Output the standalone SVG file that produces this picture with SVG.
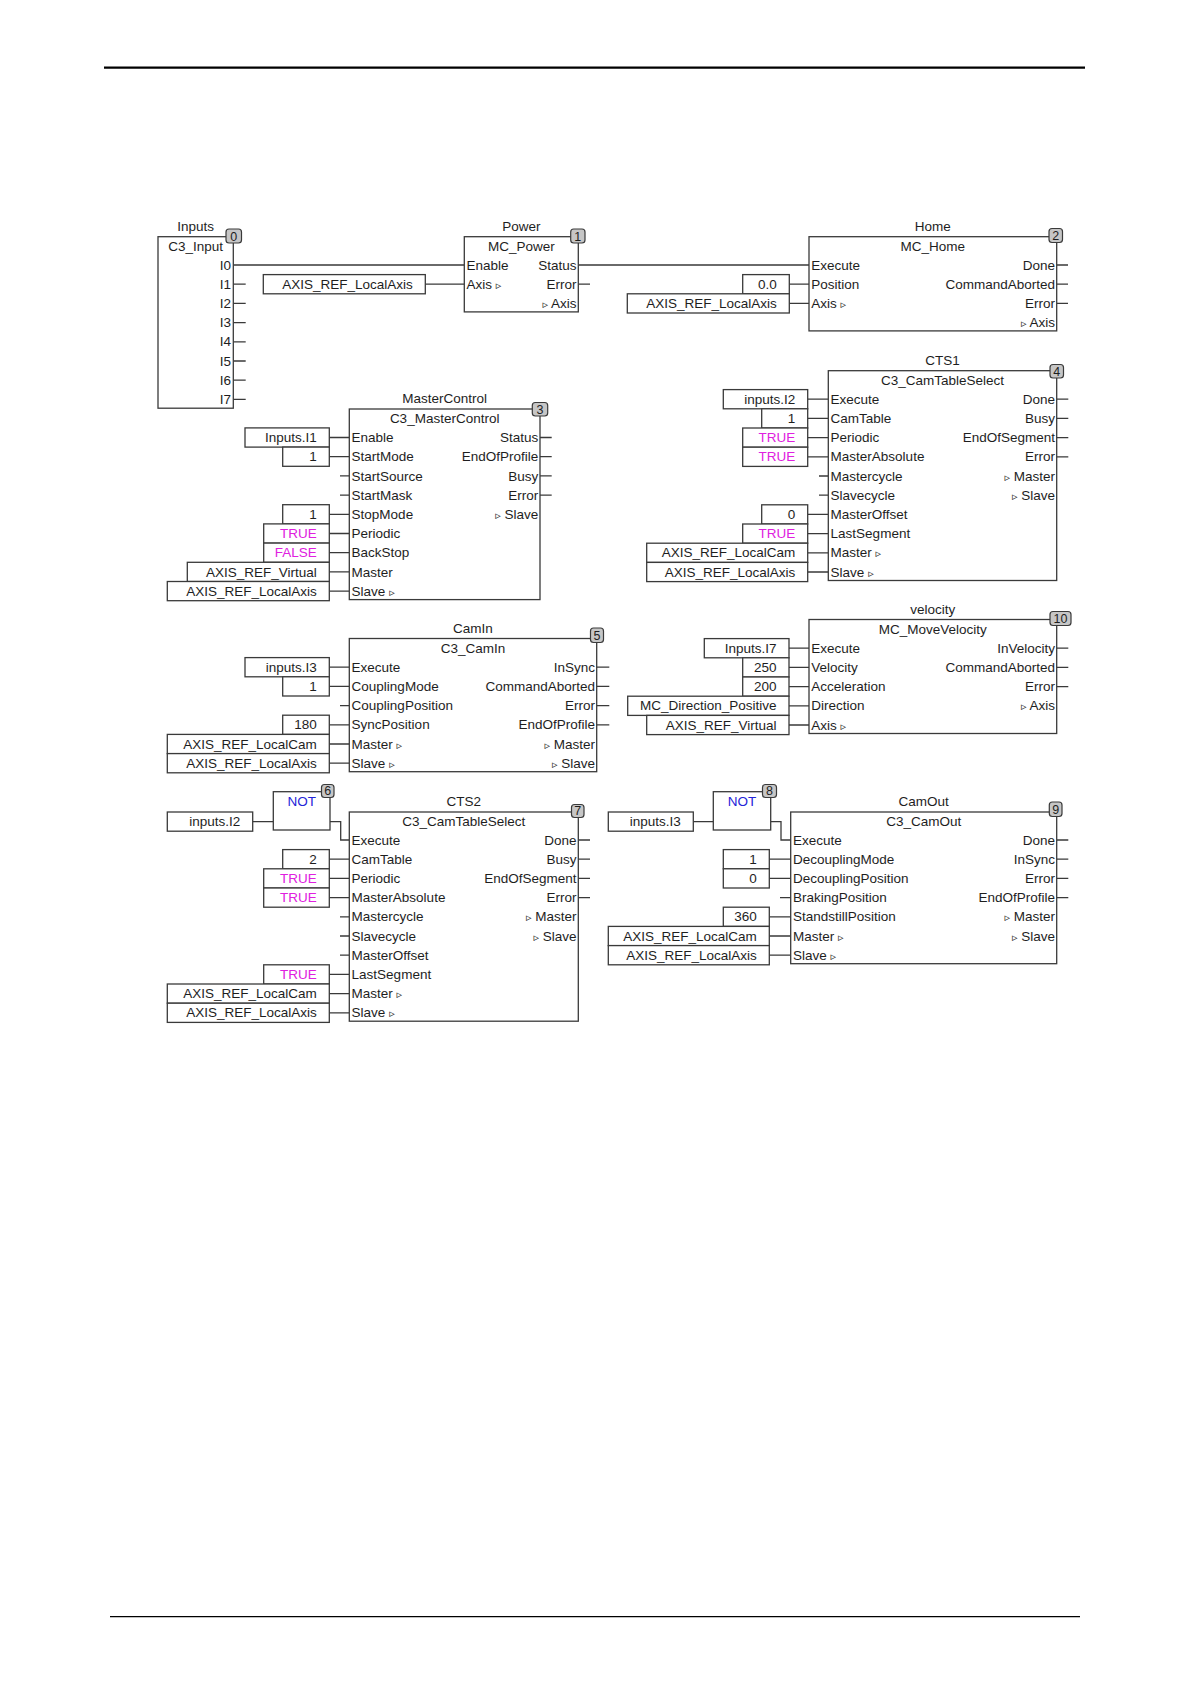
<svg xmlns="http://www.w3.org/2000/svg" width="1190" height="1684" viewBox="0 0 1190 1684">
<style>
text{font-family:"Liberation Sans","DejaVu Sans",Arial,sans-serif;font-size:13.5px;fill:#1e1e1e}
.m{text-anchor:middle}
.e{text-anchor:end}
.b{fill:#fff;stroke:#3a3a3a;stroke-width:1.3}
.ib{fill:#fff;stroke:#3a3a3a;stroke-width:1.3}
.w{fill:none;stroke:#3a3a3a;stroke-width:1.3}
.bd{fill:#c6c6c6;stroke:#3a3a3a;stroke-width:1.2}
.bt{font-size:12.5px;text-anchor:middle}
.mg{fill:#e020e0}
.bl{fill:#2424d8}
.tr{font-family:"DejaVu Sans",sans-serif;font-size:11px}
.rule{stroke:#000}
</style>
<line class="rule" x1="104" y1="67.7" x2="1085" y2="67.7" stroke-width="2.2"/>
<line class="rule" x1="110" y1="1616.7" x2="1080" y2="1616.7" stroke-width="1.3"/>

<g id="connectors" class="w">
<path d="M233.3 284.2H245.7M233.3 303.4H245.7M233.3 322.6H245.7M233.3 341.8H245.7M233.3 361H245.7M233.3 380.2H245.7M233.3 399.4H245.7"/>
<path d="M233.3 265H464.3M425.3 284.2H464.3M578.3 265H809M578.3 284.2H590"/>
<path d="M789.3 284.2H809M789.3 303.4H809M1056.7 265H1068M1056.7 284.2H1068M1056.7 303.4H1068"/>
<path d="M329.3 437.5H349.3M329.3 456.7H349.3M340 475.9H349.3M340 495.1H349.3M329.3 514.3H349.3M329.3 533.5H349.3M329.3 552.7H349.3M329.3 571.9H349.3M329.3 591.1H349.3"/>
<path d="M540 437.5H551.7M540 456.7H551.7M540 475.9H551.7M540 495.1H551.7"/>
<path d="M807.7 399.2H828.3M807.7 418.4H828.3M807.7 437.6H828.3M807.7 456.8H828.3M819 476H828.3M819 495.2H828.3M807.7 514.4H828.3M807.7 533.6H828.3M807.7 552.8H828.3M807.7 572H828.3"/>
<path d="M1056.7 399.2H1068.3M1056.7 418.4H1068.3M1056.7 437.6H1068.3M1056.7 456.8H1068.3"/>
<path d="M329.3 667.2H349.3M329.3 686.4H349.3M340 705.6H349.3M329.3 724.8H349.3M329.3 744H349.3M329.3 763.2H349.3"/>
<path d="M596.7 667.2H609.3M596.7 686.4H609.3M596.7 705.6H609.3M596.7 724.8H609.3"/>
<path d="M789 648.2H809M789 667.4H809M789 686.6H809M789 705.8H809M789 725H809"/>
<path d="M1056.7 648.2H1068.3M1056.7 667.4H1068.3M1056.7 686.6H1068.3"/>
<path d="M252.7 821.6H273.3M330 821.6H340.7V840H349.3"/>
<path d="M329.3 859.2H349.3M329.3 878.4H349.3M329.3 897.6H349.3M340 916.8H349.3M340 936H349.3M340 955.2H349.3M329.3 974.4H349.3M329.3 993.6H349.3M329.3 1012.8H349.3"/>
<path d="M578.3 840H590M578.3 859.2H590M578.3 878.4H590M578.3 897.6H590"/>
<path d="M693.3 821.6H713.3M770.7 821.6H781V840H790.7"/>
<path d="M769.3 859.2H790.7M769.3 878.4H790.7M780 897.6H790.7M769.3 916.8H790.7M769.3 936H790.7M769.3 955.2H790.7"/>
<path d="M1056.7 840H1068.3M1056.7 859.2H1068.3M1056.7 878.4H1068.3M1056.7 897.6H1068.3"/>
</g>

<g id="node0-inputs">
<text class="m" x="195.6" y="230.5">Inputs</text>
<rect class="b" x="158" y="236.7" width="75.3" height="171.5"/>
<text class="m" x="195.6" y="250.7">C3_Input</text>
<text class="e" x="231" y="269.6">I0</text>
<text class="e" x="231" y="288.8">I1</text>
<text class="e" x="231" y="308">I2</text>
<text class="e" x="231" y="327.2">I3</text>
<text class="e" x="231" y="346.4">I4</text>
<text class="e" x="231" y="365.6">I5</text>
<text class="e" x="231" y="384.8">I6</text>
<text class="e" x="231" y="404">I7</text>
<rect class="bd" x="226" y="229" width="15.5" height="14" rx="3"/>
<text class="bt" x="233.75" y="240.5">0</text>
</g>

<g id="node1-power">
<text class="m" x="521.3" y="230.5">Power</text>
<rect class="b" x="464.3" y="236.7" width="114" height="75.2"/>
<text class="m" x="521.3" y="250.7">MC_Power</text>
<text x="466.6" y="269.6">Enable</text>
<text x="466.6" y="288.8">Axis <tspan class="tr">▹</tspan></text>
<text class="e" x="576.6" y="269.6">Status</text>
<text class="e" x="576.6" y="288.8">Error</text>
<text class="e" x="576.6" y="308"><tspan class="tr">▹</tspan> Axis</text>
<rect class="bd" x="570.7" y="229" width="14.3" height="14" rx="3"/>
<text class="bt" x="577.85" y="240.5">1</text>
</g>
<g id="in-power-axis">
<rect class="ib" x="263.3" y="274.6" width="162" height="19.2"/>
<text class="e" x="412.8" y="288.8">AXIS_REF_LocalAxis</text>
</g>

<g id="node2-home">
<text class="m" x="932.8" y="230.5">Home</text>
<rect class="b" x="809" y="236.7" width="247.7" height="94.2"/>
<text class="m" x="932.8" y="250.7">MC_Home</text>
<text x="811.3" y="269.6">Execute</text>
<text x="811.3" y="288.8">Position</text>
<text x="811.3" y="308">Axis <tspan class="tr">▹</tspan></text>
<text class="e" x="1055" y="269.6">Done</text>
<text class="e" x="1055" y="288.8">CommandAborted</text>
<text class="e" x="1055" y="308">Error</text>
<text class="e" x="1055" y="327.2"><tspan class="tr">▹</tspan> Axis</text>
<rect class="bd" x="1049" y="228.5" width="13.5" height="14" rx="3"/>
<text class="bt" x="1055.75" y="240">2</text>
</g>
<g id="in-home-position">
<rect class="ib" x="742.7" y="274.6" width="46.6" height="19.2"/>
<text class="e" x="776.8" y="288.8">0.0</text>
</g>
<g id="in-home-axis">
<rect class="ib" x="627.3" y="293.8" width="162" height="19.2"/>
<text class="e" x="776.8" y="308">AXIS_REF_LocalAxis</text>
</g>

<g id="node3-mastercontrol">
<text class="m" x="444.65" y="403">MasterControl</text>
<rect class="b" x="349.3" y="409" width="190.7" height="190.6"/>
<text class="m" x="444.65" y="423">C3_MasterControl</text>
<text x="351.6" y="442.1">Enable</text>
<text x="351.6" y="461.3">StartMode</text>
<text x="351.6" y="480.5">StartSource</text>
<text x="351.6" y="499.7">StartMask</text>
<text x="351.6" y="518.9">StopMode</text>
<text x="351.6" y="538.1">Periodic</text>
<text x="351.6" y="557.3">BackStop</text>
<text x="351.6" y="576.5">Master</text>
<text x="351.6" y="595.7">Slave <tspan class="tr">▹</tspan></text>
<text class="e" x="538.3" y="442.1">Status</text>
<text class="e" x="538.3" y="461.3">EndOfProfile</text>
<text class="e" x="538.3" y="480.5">Busy</text>
<text class="e" x="538.3" y="499.7">Error</text>
<text class="e" x="538.3" y="518.9"><tspan class="tr">▹</tspan> Slave</text>
<rect class="bd" x="532.3" y="402.5" width="15.4" height="13.5" rx="3"/>
<text class="bt" x="540" y="413.5">3</text>
</g>
<g id="in-mc-enable"><rect class="ib" x="245" y="427.9" width="84.3" height="19.2"/><text class="e" x="316.8" y="442.1">Inputs.I1</text></g>
<g id="in-mc-startmode"><rect class="ib" x="282.7" y="447.1" width="46.6" height="19.2"/><text class="e" x="316.8" y="461.3">1</text></g>
<g id="in-mc-stopmode"><rect class="ib" x="282.7" y="504.7" width="46.6" height="19.2"/><text class="e" x="316.8" y="518.9">1</text></g>
<g id="in-mc-periodic"><rect class="ib" x="263.7" y="523.9" width="65.6" height="19.2"/><text class="e mg" x="316.8" y="538.1">TRUE</text></g>
<g id="in-mc-backstop"><rect class="ib" x="263.7" y="543.1" width="65.6" height="19.2"/><text class="e mg" x="316.8" y="557.3">FALSE</text></g>
<g id="in-mc-master"><rect class="ib" x="187.3" y="562.3" width="142" height="19.2"/><text class="e" x="316.8" y="576.5">AXIS_REF_Virtual</text></g>
<g id="in-mc-slave"><rect class="ib" x="167.3" y="581.5" width="162" height="19.2"/><text class="e" x="316.8" y="595.7">AXIS_REF_LocalAxis</text></g>

<g id="node4-cts1">
<text class="m" x="942.5" y="364.7">CTS1</text>
<rect class="b" x="828.3" y="370.7" width="228.4" height="209.8"/>
<text class="m" x="942.5" y="384.7">C3_CamTableSelect</text>
<text x="830.6" y="403.8">Execute</text>
<text x="830.6" y="423">CamTable</text>
<text x="830.6" y="442.2">Periodic</text>
<text x="830.6" y="461.4">MasterAbsolute</text>
<text x="830.6" y="480.6">Mastercycle</text>
<text x="830.6" y="499.8">Slavecycle</text>
<text x="830.6" y="519">MasterOffset</text>
<text x="830.6" y="538.2">LastSegment</text>
<text x="830.6" y="557.4">Master <tspan class="tr">▹</tspan></text>
<text x="830.6" y="576.6">Slave <tspan class="tr">▹</tspan></text>
<text class="e" x="1055" y="403.8">Done</text>
<text class="e" x="1055" y="423">Busy</text>
<text class="e" x="1055" y="442.2">EndOfSegment</text>
<text class="e" x="1055" y="461.4">Error</text>
<text class="e" x="1055" y="480.6"><tspan class="tr">▹</tspan> Master</text>
<text class="e" x="1055" y="499.8"><tspan class="tr">▹</tspan> Slave</text>
<rect class="bd" x="1050" y="364.5" width="13.5" height="13.5" rx="3"/>
<text class="bt" x="1056.75" y="375.5">4</text>
</g>
<g id="in-cts1-execute"><rect class="ib" x="723.3" y="389.6" width="84.4" height="19.2"/><text class="e" x="795.2" y="403.8">inputs.I2</text></g>
<g id="in-cts1-camtable"><rect class="ib" x="761.7" y="408.8" width="46" height="19.2"/><text class="e" x="795.2" y="423">1</text></g>
<g id="in-cts1-periodic"><rect class="ib" x="742.7" y="428" width="65" height="19.2"/><text class="e mg" x="795.2" y="442.2">TRUE</text></g>
<g id="in-cts1-masterabs"><rect class="ib" x="742.7" y="447.2" width="65" height="19.2"/><text class="e mg" x="795.2" y="461.4">TRUE</text></g>
<g id="in-cts1-masteroffset"><rect class="ib" x="761.7" y="504.8" width="46" height="19.2"/><text class="e" x="795.2" y="519">0</text></g>
<g id="in-cts1-lastsegment"><rect class="ib" x="742.7" y="524" width="65" height="19.2"/><text class="e mg" x="795.2" y="538.2">TRUE</text></g>
<g id="in-cts1-master"><rect class="ib" x="646.7" y="543.2" width="161" height="19.2"/><text class="e" x="795.2" y="557.4">AXIS_REF_LocalCam</text></g>
<g id="in-cts1-slave"><rect class="ib" x="646.7" y="562.4" width="161" height="19.2"/><text class="e" x="795.2" y="576.6">AXIS_REF_LocalAxis</text></g>

<g id="node5-camin">
<text class="m" x="473" y="632.5">CamIn</text>
<rect class="b" x="349.3" y="638.5" width="247.4" height="133.2"/>
<text class="m" x="473" y="652.5">C3_CamIn</text>
<text x="351.6" y="671.8">Execute</text>
<text x="351.6" y="691">CouplingMode</text>
<text x="351.6" y="710.2">CouplingPosition</text>
<text x="351.6" y="729.4">SyncPosition</text>
<text x="351.6" y="748.6">Master <tspan class="tr">▹</tspan></text>
<text x="351.6" y="767.8">Slave <tspan class="tr">▹</tspan></text>
<text class="e" x="595" y="671.8">InSync</text>
<text class="e" x="595" y="691">CommandAborted</text>
<text class="e" x="595" y="710.2">Error</text>
<text class="e" x="595" y="729.4">EndOfProfile</text>
<text class="e" x="595" y="748.6"><tspan class="tr">▹</tspan> Master</text>
<text class="e" x="595" y="767.8"><tspan class="tr">▹</tspan> Slave</text>
<rect class="bd" x="590.5" y="628" width="13" height="14.5" rx="3"/>
<text class="bt" x="597" y="639.5">5</text>
</g>
<g id="in-camin-execute"><rect class="ib" x="245" y="657.6" width="84.3" height="19.2"/><text class="e" x="316.8" y="671.8">inputs.I3</text></g>
<g id="in-camin-couplingmode"><rect class="ib" x="282.7" y="676.8" width="46.6" height="19.2"/><text class="e" x="316.8" y="691">1</text></g>
<g id="in-camin-syncpos"><rect class="ib" x="282.7" y="715.2" width="46.6" height="19.2"/><text class="e" x="316.8" y="729.4">180</text></g>
<g id="in-camin-master"><rect class="ib" x="167.3" y="734.4" width="162" height="19.2"/><text class="e" x="316.8" y="748.6">AXIS_REF_LocalCam</text></g>
<g id="in-camin-slave"><rect class="ib" x="167.3" y="753.6" width="162" height="19.2"/><text class="e" x="316.8" y="767.8">AXIS_REF_LocalAxis</text></g>

<g id="node10-velocity">
<text class="m" x="932.85" y="613.5">velocity</text>
<rect class="b" x="809" y="619.5" width="247.7" height="114"/>
<text class="m" x="932.85" y="633.5">MC_MoveVelocity</text>
<text x="811.3" y="652.8">Execute</text>
<text x="811.3" y="672">Velocity</text>
<text x="811.3" y="691.2">Acceleration</text>
<text x="811.3" y="710.4">Direction</text>
<text x="811.3" y="729.6">Axis <tspan class="tr">▹</tspan></text>
<text class="e" x="1055" y="652.8">InVelocity</text>
<text class="e" x="1055" y="672">CommandAborted</text>
<text class="e" x="1055" y="691.2">Error</text>
<text class="e" x="1055" y="710.4"><tspan class="tr">▹</tspan> Axis</text>
<rect class="bd" x="1050" y="611.5" width="21" height="14" rx="3"/>
<text class="bt" x="1060.5" y="622.8">10</text>
</g>
<g id="in-vel-execute"><rect class="ib" x="704.3" y="638.6" width="84.7" height="19.2"/><text class="e" x="776.5" y="652.8">Inputs.I7</text></g>
<g id="in-vel-velocity"><rect class="ib" x="742.7" y="657.8" width="46.3" height="19.2"/><text class="e" x="776.5" y="672">250</text></g>
<g id="in-vel-accel"><rect class="ib" x="742.7" y="677" width="46.3" height="19.2"/><text class="e" x="776.5" y="691.2">200</text></g>
<g id="in-vel-direction"><rect class="ib" x="627.7" y="696.2" width="161.3" height="19.2"/><text class="e" x="776.5" y="710.4">MC_Direction_Positive</text></g>
<g id="in-vel-axis"><rect class="ib" x="646.7" y="715.4" width="142.3" height="19.2"/><text class="e" x="776.5" y="729.6">AXIS_REF_Virtual</text></g>

<g id="node6-not">
<rect class="b" x="273.3" y="791.7" width="56.7" height="38.3"/>
<text class="m bl" x="301.65" y="805.7">NOT</text>
<rect class="bd" x="321.5" y="784.5" width="12.5" height="13" rx="3"/>
<text class="bt" x="327.75" y="795.2">6</text>
</g>
<g id="in-not6"><rect class="ib" x="167.3" y="812" width="85.4" height="19.2"/><text class="e" x="240.2" y="826.2">inputs.I2</text></g>

<g id="node7-cts2">
<text class="m" x="463.8" y="806">CTS2</text>
<rect class="b" x="349.3" y="812" width="229" height="209.2"/>
<text class="m" x="463.8" y="826">C3_CamTableSelect</text>
<text x="351.6" y="844.6">Execute</text>
<text x="351.6" y="863.8">CamTable</text>
<text x="351.6" y="883">Periodic</text>
<text x="351.6" y="902.2">MasterAbsolute</text>
<text x="351.6" y="921.4">Mastercycle</text>
<text x="351.6" y="940.6">Slavecycle</text>
<text x="351.6" y="959.8">MasterOffset</text>
<text x="351.6" y="979">LastSegment</text>
<text x="351.6" y="998.2">Master <tspan class="tr">▹</tspan></text>
<text x="351.6" y="1017.4">Slave <tspan class="tr">▹</tspan></text>
<text class="e" x="576.6" y="844.6">Done</text>
<text class="e" x="576.6" y="863.8">Busy</text>
<text class="e" x="576.6" y="883">EndOfSegment</text>
<text class="e" x="576.6" y="902.2">Error</text>
<text class="e" x="576.6" y="921.4"><tspan class="tr">▹</tspan> Master</text>
<text class="e" x="576.6" y="940.6"><tspan class="tr">▹</tspan> Slave</text>
<rect class="bd" x="571.5" y="804.5" width="12.5" height="13" rx="3"/>
<text class="bt" x="577.75" y="815.2">7</text>
</g>
<g id="in-cts2-camtable"><rect class="ib" x="282.7" y="849.6" width="46.6" height="19.2"/><text class="e" x="316.8" y="863.8">2</text></g>
<g id="in-cts2-periodic"><rect class="ib" x="263.7" y="868.8" width="65.6" height="19.2"/><text class="e mg" x="316.8" y="883">TRUE</text></g>
<g id="in-cts2-masterabs"><rect class="ib" x="263.7" y="888" width="65.6" height="19.2"/><text class="e mg" x="316.8" y="902.2">TRUE</text></g>
<g id="in-cts2-lastsegment"><rect class="ib" x="263.7" y="964.8" width="65.6" height="19.2"/><text class="e mg" x="316.8" y="979">TRUE</text></g>
<g id="in-cts2-master"><rect class="ib" x="167.3" y="984" width="162" height="19.2"/><text class="e" x="316.8" y="998.2">AXIS_REF_LocalCam</text></g>
<g id="in-cts2-slave"><rect class="ib" x="167.3" y="1003.2" width="162" height="19.2"/><text class="e" x="316.8" y="1017.4">AXIS_REF_LocalAxis</text></g>

<g id="node8-not">
<rect class="b" x="713.3" y="791.7" width="57.4" height="38.3"/>
<text class="m bl" x="742" y="805.7">NOT</text>
<rect class="bd" x="762.5" y="784.5" width="14" height="13" rx="3"/>
<text class="bt" x="769.5" y="795.2">8</text>
</g>
<g id="in-not8"><rect class="ib" x="608.3" y="812" width="85" height="19.2"/><text class="e" x="680.8" y="826.2">inputs.I3</text></g>

<g id="node9-camout">
<text class="m" x="923.7" y="806">CamOut</text>
<rect class="b" x="790.7" y="812" width="266" height="151.7"/>
<text class="m" x="923.7" y="826">C3_CamOut</text>
<text x="793" y="844.6">Execute</text>
<text x="793" y="863.8">DecouplingMode</text>
<text x="793" y="883">DecouplingPosition</text>
<text x="793" y="902.2">BrakingPosition</text>
<text x="793" y="921.4">StandstillPosition</text>
<text x="793" y="940.6">Master <tspan class="tr">▹</tspan></text>
<text x="793" y="959.8">Slave <tspan class="tr">▹</tspan></text>
<text class="e" x="1055" y="844.6">Done</text>
<text class="e" x="1055" y="863.8">InSync</text>
<text class="e" x="1055" y="883">Error</text>
<text class="e" x="1055" y="902.2">EndOfProfile</text>
<text class="e" x="1055" y="921.4"><tspan class="tr">▹</tspan> Master</text>
<text class="e" x="1055" y="940.6"><tspan class="tr">▹</tspan> Slave</text>
<rect class="bd" x="1049.3" y="802" width="12.7" height="14.5" rx="3"/>
<text class="bt" x="1055.65" y="813.5">9</text>
</g>
<g id="in-camout-mode"><rect class="ib" x="723.3" y="849.6" width="46" height="19.2"/><text class="e" x="756.8" y="863.8">1</text></g>
<g id="in-camout-pos"><rect class="ib" x="723.3" y="868.8" width="46" height="19.2"/><text class="e" x="756.8" y="883">0</text></g>
<g id="in-camout-standstill"><rect class="ib" x="723.3" y="907.2" width="46" height="19.2"/><text class="e" x="756.8" y="921.4">360</text></g>
<g id="in-camout-master"><rect class="ib" x="608.3" y="926.4" width="161" height="19.2"/><text class="e" x="756.8" y="940.6">AXIS_REF_LocalCam</text></g>
<g id="in-camout-slave"><rect class="ib" x="608.3" y="945.6" width="161" height="19.2"/><text class="e" x="756.8" y="959.8">AXIS_REF_LocalAxis</text></g>
</svg>
